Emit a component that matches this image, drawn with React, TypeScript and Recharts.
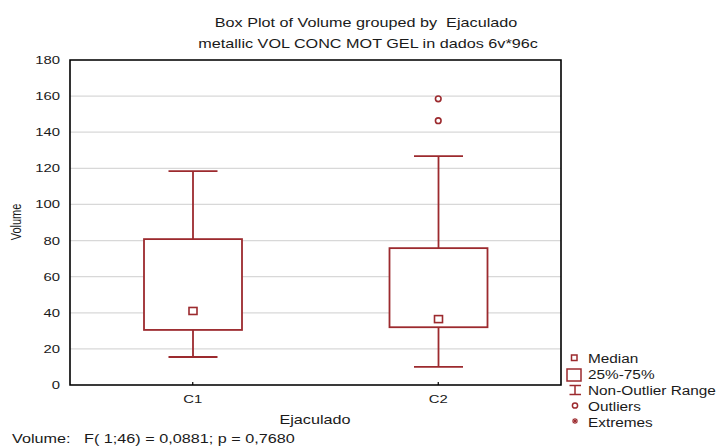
import { ComposedChart, Bar, Scatter, XAxis, YAxis, CartesianGrid, ReferenceArea } from 'recharts'

const categories = ['C1', 'C2']
const whiskerLow = [15.5, 10]
const quartile1 = [30.5, 32]
const medians = [41, 36.5]
const quartile3 = [80.8, 75.8]
const whiskerHigh = [118.5, 126.8]
const outlierA = [null, 158.5]
const outlierB = [null, 146.4]
const yTicks = [0, 20, 40, 60, 80, 100, 120, 140, 160, 180]

const data = categories.map((cat, i) => ({
  cat,
  range: [whiskerLow[i], whiskerHigh[i]],
  lo: whiskerLow[i],
  q1: quartile1[i],
  med: medians[i],
  q3: quartile3[i],
  hi: whiskerHigh[i],
  outA: outlierA[i],
  outB: outlierB[i],
}))

const RED = '#9c2a2e'
const INK = '#1a1a1a'
const FONT = '"Liberation Sans", Arial, sans-serif'
// the old statistics output uses a wide, stretched sans face
const STRETCH = 1.35

function Wide({ x, y, anchor = 'start', size = 12, stretch = STRETCH, children }: any) {
  return (
    <text
      transform={`translate(${x},${y}) scale(${stretch},1)`}
      textAnchor={anchor}
      fontSize={size}
      fontFamily={FONT}
      fill={INK}
      style={{ whiteSpace: 'pre' }}
    >
      {children}
    </text>
  )
}

function YTick({ x, y, payload }: any) {
  return (
    <Wide x={x} y={y + 4} anchor="end" size={11}>
      {payload.value}
    </Wide>
  )
}

function XTick({ x, y, payload }: any) {
  return (
    <g>
      <line x1={x} x2={x} y1={y - 10} y2={y - 13} stroke="#000" strokeWidth={1.2} />
      <Wide x={x} y={y + 8} anchor="middle" size={11}>
        {payload.value}
      </Wide>
    </g>
  )
}

// whisker bar spans lo..hi; the rest of the box is placed on the same linear scale
function BoxShape(props: any) {
  const { x, y, width, height, payload } = props
  const { lo, hi, q1, q3, med } = payload
  const k = height / (hi - lo)
  const py = (v: number) => y + (hi - v) * k
  const cx = x + width / 2
  const cap = 24.5
  return (
    <g stroke={RED} strokeWidth={1.8} fill="none">
      <line x1={cx} x2={cx} y1={py(hi)} y2={py(q3)} />
      <line x1={cx - cap} x2={cx + cap} y1={py(hi)} y2={py(hi)} />
      <line x1={cx} x2={cx} y1={py(q1)} y2={py(lo)} />
      <line x1={cx - cap} x2={cx + cap} y1={py(lo)} y2={py(lo)} />
      <rect x={x} y={py(q3)} width={width} height={py(q1) - py(q3)} fill="#fff" />
      <rect x={cx - 4} y={py(med) - 3.5} width={8} height={7} fill="#fff" strokeWidth={1.6} />
    </g>
  )
}

function OutlierDot(props: any) {
  const { cx, cy, payload, field } = props
  if (!payload || payload[field] == null || cx == null || cy == null || isNaN(cy)) return <g />
  return <circle cx={cx} cy={cy} r={2.8} stroke={RED} strokeWidth={1.6} fill="#fff" />
}

function Legend() {
  const rows = ['Median', '25%-75%', 'Non-Outlier Range', 'Outliers', 'Extremes']
  const base = [363, 379, 395, 411, 427]
  return (
    <g>
      <rect x={571.5} y={355} width={5.5} height={5.5} stroke={RED} strokeWidth={1.5} fill="none" />
      <rect x={567} y={369} width={14} height={12} stroke={RED} strokeWidth={1.5} fill="none" />
      <g stroke={RED} strokeWidth={1.5}>
        <line x1={569.5} x2={581} y1={385.5} y2={385.5} />
        <line x1={575} x2={575} y1={385.5} y2={394.5} />
        <line x1={569.5} x2={581} y1={394.5} y2={394.5} />
      </g>
      <circle cx={575} cy={405.5} r={2.6} stroke={RED} strokeWidth={1.5} fill="none" />
      <g stroke={RED} strokeWidth={1.2}>
        <line x1={572} x2={578} y1={421} y2={421} />
        <line x1={575} x2={575} y1={418} y2={424} />
        <line x1={572.8} x2={577.2} y1={418.8} y2={423.2} />
        <line x1={577.2} x2={572.8} y1={418.8} y2={423.2} />
      </g>
      {rows.map((r, i) => (
        <Wide key={r} x={588} y={base[i]} size={12} stretch={1.28}>
          {r}
        </Wide>
      ))}
    </g>
  )
}

export default function App() {
  return (
    <div style={{ position: 'absolute', left: 0, top: 0, width: 720, height: 446, background: '#fff' }}>
      <ComposedChart
        width={720}
        height={446}
        data={data}
        margin={{ top: 60, right: 159, bottom: 31, left: 30 }}
      >
        <CartesianGrid vertical={false} stroke="#d8d8d8" strokeWidth={1.2} />
        <XAxis
          dataKey="cat"
          height={30}
          axisLine={false}
          tickLine={false}
          tickSize={0}
          tickMargin={10}
          tick={<XTick />}
          allowDuplicatedCategory={false}
        />
        <YAxis
          width={40}
          domain={[0, 180]}
          ticks={yTicks}
          interval={0}
          axisLine={false}
          tickLine={false}
          tickSize={0}
          tickMargin={10}
          tick={<YTick />}
        />
        <Bar dataKey="range" barSize={98} shape={<BoxShape />} isAnimationActive={false} />
        <Scatter dataKey="outA" shape={<OutlierDot field="outA" />} isAnimationActive={false} />
        <Scatter dataKey="outB" shape={<OutlierDot field="outB" />} isAnimationActive={false} />
        <ReferenceArea y1={0} y2={180} fill="none" stroke="#000" strokeWidth={1.6} />
      </ComposedChart>
      <svg
        width={720}
        height={446}
        style={{ position: 'absolute', left: 0, top: 0, pointerEvents: 'none' }}
      >
        <Wide x={366} y={27} anchor="middle" size={12}>
          {'Box Plot of Volume grouped by  Ejaculado'}
        </Wide>
        <Wide x={368} y={48} anchor="middle" size={12}>
          {'metallic VOL CONC MOT GEL in dados 6v*96c'}
        </Wide>
        <Wide x={315} y={424} anchor="middle" size={12}>
          Ejaculado
        </Wide>
        <text
          transform={`translate(21,222) scale(${STRETCH},1) rotate(-90)`}
          textAnchor="middle"
          fontSize={11}
          fontFamily={FONT}
          fill={INK}
        >
          Volume
        </text>
        <Wide x={12} y={443} size={12}>
          {'Volume:   F( 1;46) = 0,0881; p = 0,7680'}
        </Wide>
        <Legend />
      </svg>
    </div>
  )
}
